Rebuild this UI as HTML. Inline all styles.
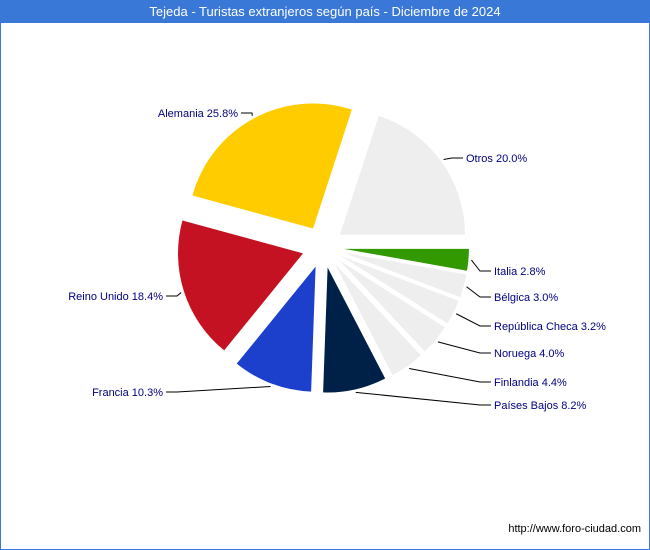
<!DOCTYPE html>
<html><head><meta charset="utf-8"><style>
body{margin:0;background:#fff}
#w{position:relative;width:648px;height:548px;border:1px solid #3a78d8;font-family:"Liberation Sans","DejaVu Sans",sans-serif}
#t{position:absolute;left:0;top:0;width:648px;height:22px;background:#3a78d8;color:#fff;font-size:13px;line-height:22px;text-align:center}
#u{position:absolute;right:8px;top:522px;font-size:11px;color:#000}
</style></head><body>
<div id="w">
<div id="t">Tejeda - Turistas extranjeros según país - Diciembre de 2024</div>
<svg id="s" width="648" height="548" style="position:absolute;left:0;top:0"></svg>
<div id="u">http://www.foro-ciudad.com</div>
</div>
<script>
const categories=["Italia","Bélgica","República Checa","Noruega","Finlandia","Países Bajos","Francia","Reino Unido","Alemania","Otros"];
const values=[2.8,3.0,3.2,4.0,4.4,8.2,10.3,18.4,25.8,20.0];
const labels=["Italia 2.8%","Bélgica 3.0%","República Checa 3.2%","Noruega 4.0%","Finlandia 4.4%","Países Bajos 8.2%","Francia 10.3%","Reino Unido 18.4%","Alemania 25.8%","Otros 20.0%"];
const colors=["#339900","#eeeeee","#eeeeee","#eeeeee","#eeeeee","#002147","#1c3fcc","#c41222","#ffcc00","#eeeeee"];
const labelPos=[[493,270,0],[493,296,0],[493,325,0],[493,352,0],[493,381,0],[493,404,0],[162,391,1],[162,295,1],[237,112,1],[465,157,0]];
const NS="http://www.w3.org/2000/svg",svg=document.getElementById('s');
const cx=322,cy=246,R=125,off=21;
const total=values.reduce((a,b)=>a+b,0);
function mk(t,a){const e=document.createElementNS(NS,t);for(const k in a)e.setAttribute(k,a[k]);svg.appendChild(e);return e;}
let a0=0;
values.forEach((v,i)=>{
 const a1=a0+v/total*2*Math.PI,am=(a0+a1)/2;
 const ox=cx+off*Math.cos(am),oy=cy+off*Math.sin(am);
 const x0=ox+R*Math.cos(a0),y0=oy+R*Math.sin(a0),x1=ox+R*Math.cos(a1),y1=oy+R*Math.sin(a1);
 const p=mk('path',{d:`M${ox},${oy}L${x0},${y0}A${R},${R} 0 ${a1-a0>Math.PI?1:0} 1 ${x1},${y1}Z`,fill:colors[i]});
 
 
 const ex=ox+(R+3)*Math.cos(am),ey=oy+(R+3)*Math.sin(am);
 const [lx,ly,left]=labelPos[i];
 const kx=left?lx+14:lx-14;
 const ln=mk('polyline',{points:`${ex},${ey} ${kx},${ly} ${left?lx+3:lx-3},${ly}`,fill:'none',stroke:'#000','stroke-width':1});
 
 
 const tx=mk('text',{x:lx,y:ly+4,'font-size':11,fill:'#000080','text-anchor':left?'end':'start'});
 tx.textContent=labels[i];
 
 
 a0=a1;
});
</script>
</body></html>
